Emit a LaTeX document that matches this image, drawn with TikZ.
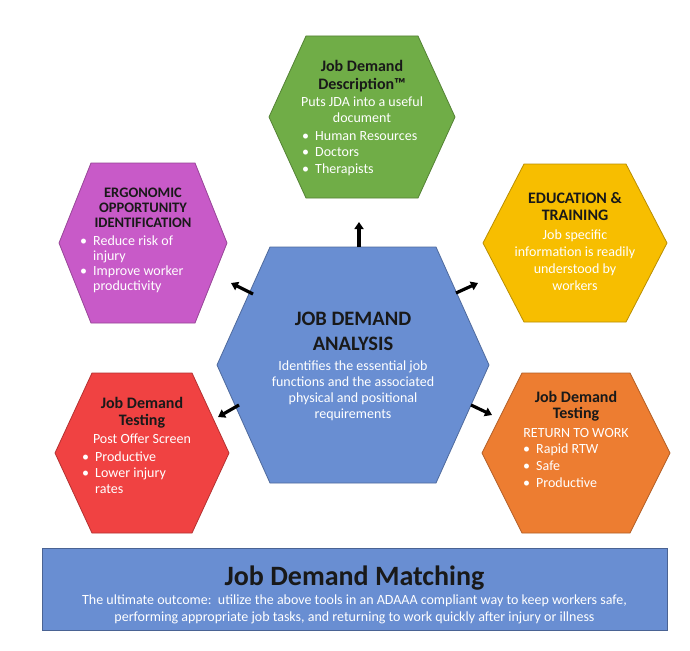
\documentclass[tikz,border=0pt]{standalone}
\usepackage{fontspec}
\setmainfont{Carlito}
\usetikzlibrary{arrows.meta}

\definecolor{jdgreen}{RGB}{112,173,71}
\definecolor{jdpurple}{RGB}{200,90,200}
\definecolor{jdyellow}{RGB}{247,190,0}
\definecolor{jdblue}{RGB}{105,142,210}
\definecolor{jdred}{RGB}{240,66,66}
\definecolor{jdorange}{RGB}{237,125,49}

\newcommand\bl{\makebox[13pt][l]{\textbullet}}
\newcommand\nb{\hspace*{13pt}}

\begin{document}
\begin{tikzpicture}[x=1pt, y=-1pt,
    hex/.style={line width=0.8pt},
    head/.style={font=\fontsize{16}{18}\selectfont\bfseries, text=black!90, align=center, inner sep=0pt, anchor=base},
    body/.style={font=\fontsize{14}{16.5}\selectfont, text=white, align=center, inner sep=0pt, anchor=base},
    blist/.style={body, align=left, anchor=base west},
    flow/.style={-{Triangle[length=7pt,width=9pt]}, line width=3.2pt, black}
]

\useasboundingbox (0,0) rectangle (690,650);
\fill[white] (0,0) rectangle (690,650);

% Description (top)
\begin{scope}[shift={(362,117)}]
    \filldraw[hex, fill=jdgreen, draw=jdgreen!75!black] (-93,0) -- (-56,-81) -- (56,-81) -- (93,0) -- (56,81) -- (-56,81) -- cycle;
    \node[head] (descHead) at (0,-27) {Job Demand\\Description™};
    \node[body] (descText) at (0,6) {Puts JDA into a useful\\document};
    \node[blist] (descList) at (-60,56) {\bl Human Resources\\\bl Doctors\\\bl Therapists};
\end{scope}

% Ergonomic opportunity (upper left)
\begin{scope}[shift={(143,243)}]
    \filldraw[hex, fill=jdpurple, draw=jdpurple!75!black] (-84,0) -- (-52,-80) -- (52,-80) -- (84,0) -- (52,80) -- (-52,80) -- cycle;
    \node[head, font=\fontsize{14.5}{15}\selectfont\bfseries] (ergoHead) at (0,-16) {ERGONOMIC\\OPPORTUNITY\\IDENTIFICATION};
    \node[blist, font=\fontsize{14}{15}\selectfont] (ergoList) at (-63,47) {\bl Reduce risk of\\\nb injury\\\bl Improve worker\\\nb productivity};
\end{scope}

% Education (upper right)
\begin{scope}[shift={(575,243)}]
    \filldraw[hex, fill=jdyellow, draw=jdyellow!75!black] (-92,0) -- (-51,-79) -- (51,-79) -- (92,0) -- (51,79) -- (-51,79) -- cycle;
    \node[head, font=\fontsize{16}{17}\selectfont\bfseries] (eduHead) at (0,-23) {EDUCATION \&\\TRAINING};
    \node[body, font=\fontsize{14}{16.7}\selectfont] (eduText) at (0,47) {Job specific\\information is readily\\understood by\\workers};
\end{scope}

% Analysis (centre)
\begin{scope}[shift={(353,365)}]
    \filldraw[hex, fill=jdblue, draw=jdblue!75!black] (-136,0) -- (-83,-118) -- (83,-118) -- (136,0) -- (83,118) -- (-83,118) -- cycle;
    \node[head, font=\fontsize{20.5}{25}\selectfont\bfseries] (jdaHead) at (0,-15) {JOB DEMAND\\ANALYSIS};
    \node[body, font=\fontsize{14}{16}\selectfont] (jdaText) at (0,53) {Identifies the essential job\\functions and the associated\\physical and positional\\requirements};
\end{scope}

% Post offer testing (lower left)
\begin{scope}[shift={(142,453)}]
    \filldraw[hex, fill=jdred, draw=jdred!75!black] (-87,0) -- (-50,-80) -- (50,-80) -- (87,0) -- (50,80) -- (-50,80) -- cycle;
    \node[head, font=\fontsize{16}{17}\selectfont\bfseries] (postHead) at (0,-28) {Job Demand\\Testing};
    \node[body] (postText) at (0,-10) {Post Offer Screen};
    \node[blist, font=\fontsize{14}{16}\selectfont] (postList) at (-60,40) {\bl Productive\\\bl Lower injury\\\nb rates};
\end{scope}

% Return to work testing (lower right)
\begin{scope}[shift={(576,453)}]
    \filldraw[hex, fill=jdorange, draw=jdorange!75!black] (-94,0) -- (-54,-80) -- (54,-80) -- (94,0) -- (54,80) -- (-54,80) -- cycle;
    \node[head, font=\fontsize{16}{16}\selectfont\bfseries] (rtwHead) at (0,-35) {Job Demand\\Testing};
    \node[body] (rtwText) at (0,-16) {RETURN TO WORK};
    \node[blist, font=\fontsize{14}{17}\selectfont] (rtwList) at (-53,34) {\bl Rapid RTW\\\bl Safe\\\bl Productive};
\end{scope}

% Arrows out of the centre
\coordinate (nS) at (359,247);  \coordinate (nE) at (359,222);
\coordinate (nwS) at (253,294); \coordinate (nwE) at (231,283);
\coordinate (neS) at (456,293); \coordinate (neE) at (478,283);
\coordinate (swS) at (239,405); \coordinate (swE) at (218,417);
\coordinate (seS) at (471,405); \coordinate (seE) at (492,415);
\draw[flow] (nS) -- (nE);
\draw[flow] (nwS) -- (nwE);
\draw[flow] (neS) -- (neE);
\draw[flow] (swS) -- (swE);
\draw[flow] (seS) -- (seE);

% Matching banner
\filldraw[hex, fill=jdblue, draw=jdblue!70!black] (42,548) rectangle (667,630);
\node[head, font=\fontsize{28}{30}\selectfont\bfseries] (matchHead) at (354.5,585) {Job Demand Matching};
\node[body, font=\fontsize{14}{17}\selectfont] (matchText) at (354.5,621) {The ultimate outcome:\ \ utilize the above tools in an ADAAA compliant way to keep workers safe,\\performing appropriate job tasks, and returning to work quickly after injury or illness};

\end{tikzpicture}
\end{document}
